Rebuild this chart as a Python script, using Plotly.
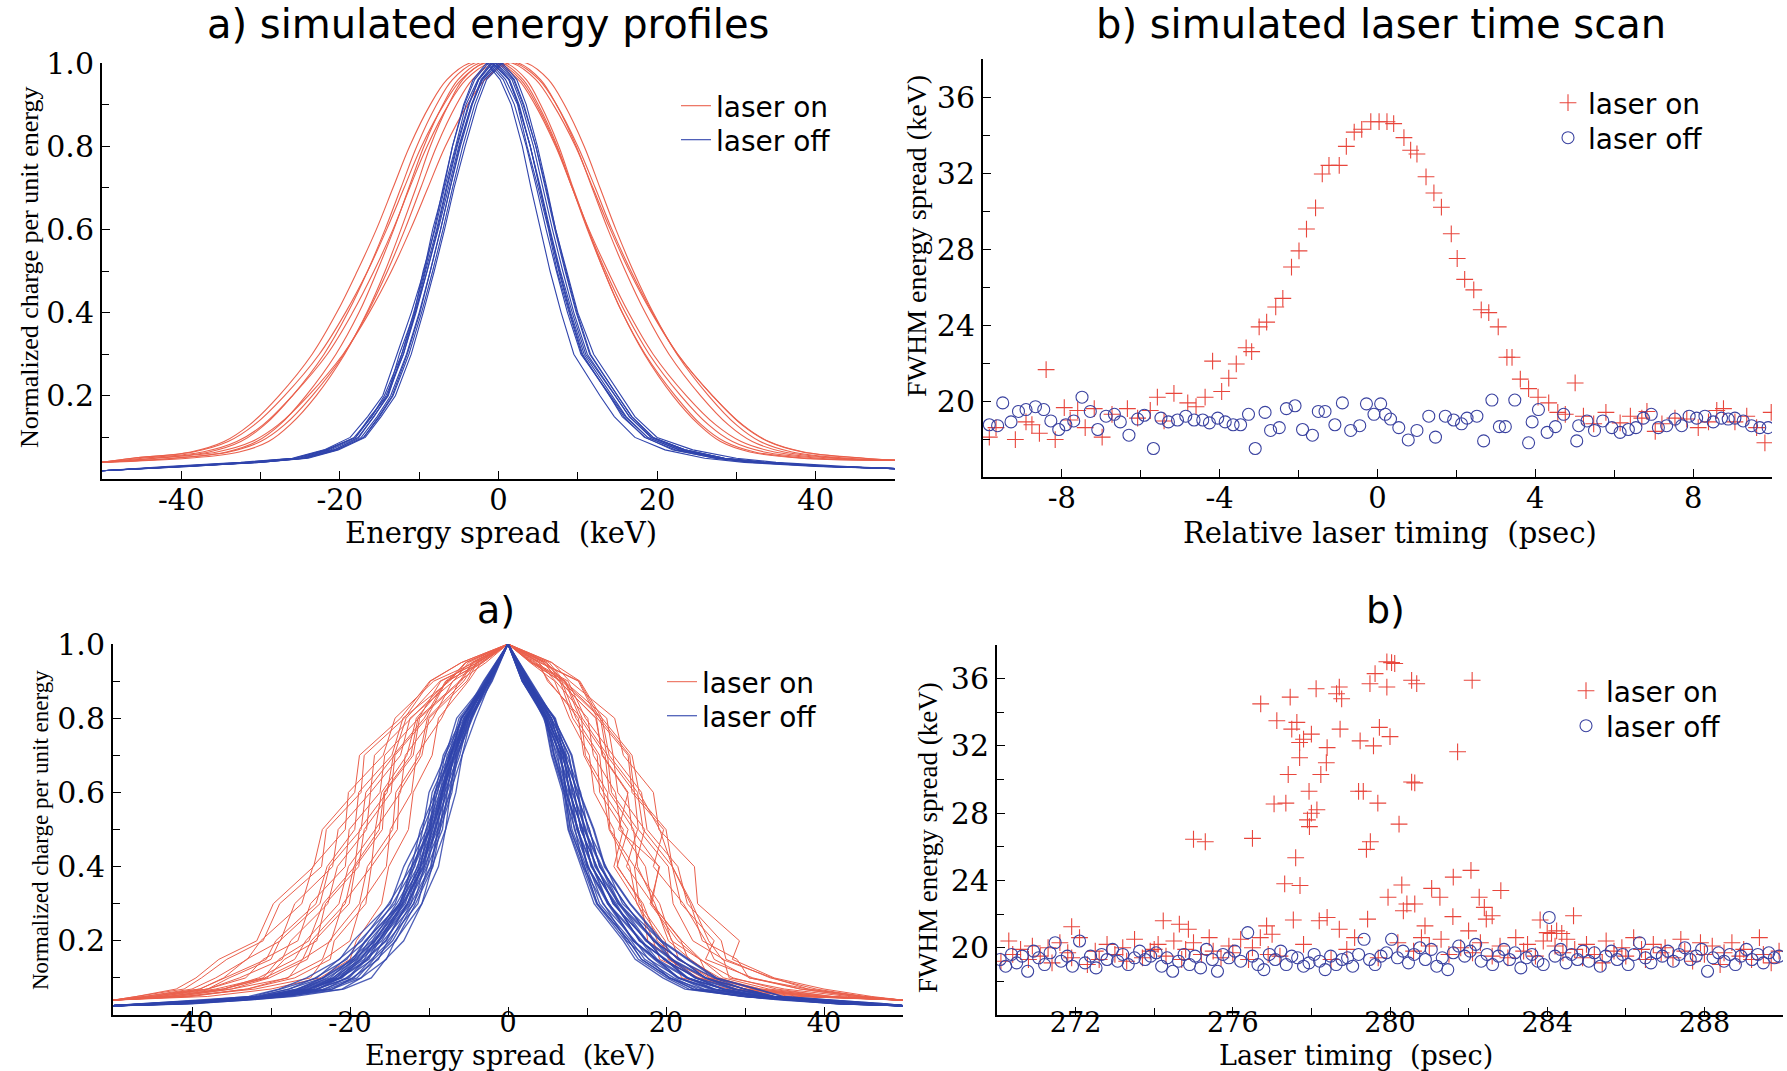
import plotly.graph_objects as go

W, H = 1787, 1071

RED_LINE = "rgb(234,96,76)"
BLUE_LINE = "rgb(48,68,172)"
RED_MK = "rgb(232,70,60)"
BLUE_MK = "rgb(58,66,160)"

# ---------------- top-left: simulated energy profiles (x positions at fixed levels) ----------------
TL_ON_LEVELS = [0.04, 0.05, 0.065, 0.09, 0.13, 0.2, 0.3, 0.4, 0.5, 0.6, 0.7, 0.8, 0.9, 0.96, 1.0,
                1.0, 0.96, 0.9, 0.8, 0.7, 0.6, 0.5, 0.4, 0.3, 0.2, 0.13, 0.09, 0.065, 0.05, 0.045]
TL_ON_CURVES = [
    [-50, -46.1, -38.8, -34.6, -31.4, -27.7, -23.5, -20.4, -17.8, -15.4, -13.3, -11.2, -8.6, -6.5, -3.6,
     -0.4, 2.5, 4.6, 7.2, 9.3, 11.4, 13.8, 16.4, 19.5, 23.7, 27.4, 30.6, 34.8, 42.1, 50],
    [-50, -40.9, -34.3, -30.5, -27.6, -24.3, -20.5, -17.6, -15.3, -13.2, -11.3, -9.4, -7.0, -5.1, -2.4,
     0.4, 3.1, 5.0, 7.4, 9.3, 11.2, 13.3, 15.6, 18.5, 22.3, 25.6, 28.5, 32.3, 38.9, 50],
    [-50, -46.2, -38.5, -34.1, -30.8, -27.0, -22.6, -19.3, -16.5, -14.1, -11.9, -9.7, -6.9, -4.7, -1.7,
     1.7, 4.7, 6.9, 9.7, 11.9, 14.1, 16.5, 19.3, 22.6, 27.0, 30.8, 34.1, 38.5, 46.2, 50],
    [-50, -41, -34, -30, -27, -23.5, -19.5, -16.5, -14, -11.8, -9.8, -7.8, -5.3, -3.3, -0.5,
     2.5, 5.3, 7.3, 9.8, 11.8, 13.8, 16, 18.5, 21.5, 25.5, 29, 32, 36, 43, 50],
    [-50, -43.5, -36.5, -32.5, -29.5, -26, -22, -19, -16.5, -14.3, -12.3, -10.3, -7.8, -5.8, -3,
     0, 2.8, 4.8, 7.3, 9.3, 11.3, 13.5, 16, 19, 23, 26.5, 29.5, 33.5, 40.5, 50],
    [-50, -43.2, -35.5, -31.1, -27.8, -24, -19.6, -16.3, -13.5, -11.1, -8.9, -6.7, -3.9, -1.7, 1.3,
     3.5, 6.3, 8.3, 10.8, 12.8, 14.8, 17, 19.5, 22.5, 26.5, 30, 33, 37, 44, 50],
    [-50, -44.9, -37.3, -33.0, -29.7, -26.0, -21.6, -18.4, -15.7, -13.3, -11.2, -9.0, -6.3, -4.1, -1.1,
     2.1, 5.1, 7.3, 10.0, 12.2, 14.3, 16.7, 19.4, 22.6, 27.0, 30.7, 34.0, 38.3, 45.9, 50],
    [-50, -39.1, -32.7, -29.0, -26.3, -23.0, -19.4, -16.6, -14.3, -12.3, -10.4, -8.6, -6.3, -4.5, -1.9,
     0.9, 3.5, 5.3, 7.6, 9.4, 11.3, 13.3, 15.6, 18.4, 22.0, 25.3, 28.0, 31.7, 38.1, 50],
]

TL_OFF_LEVELS = [0.02, 0.03, 0.04, 0.05, 0.07, 0.1, 0.15, 0.2, 0.3, 0.4, 0.5, 0.6, 0.7, 0.8, 0.9, 0.96, 1.0,
                 0.96, 0.9, 0.8, 0.7, 0.6, 0.5, 0.4, 0.3, 0.2, 0.15, 0.1, 0.07, 0.05, 0.04, 0.03, 0.025]
TL_OFF_CURVES = [
    [-50, -41, -32, -25.5, -21.8, -18, -16.2, -14.0, -12.5, -10.6, -9.5, -8.0, -6.8, -5.4, -4.1, -2.6, -1.0,
     0.9, 2.4, 3.6, 5.0, 6.3, 7.4, 8.9, 10.5, 14.0, 15.6, 18.5, 22.0, 27.5, 32.0, 41.0, 50],
    [-50, -39, -31, -25, -21.5, -18, -16, -14.2, -12, -10.5, -9, -7.6, -6.3, -5, -3.4, -2.0, 0.0,
     1.9, 3.1, 4.7, 6.0, 7.2, 8.6, 10.0, 12.0, 15.5, 17.2, 20.0, 24.5, 30, 35, 44, 50],
    [-50, -40, -30, -24.6, -20.7, -17.6, -15.8, -13.9, -12.2, -10.7, -9.3, -8.1, -7.0, -5.8, -4.4, -3.2, -1.5,
     0.2, 1.6, 3.0, 4.1, 5.3, 6.5, 7.9, 9.5, 12.8, 14.6, 17.2, 21.0, 26.0, 31.0, 40.0, 50],
    [-50, -40, -30.5, -24.5, -20.5, -17.0, -15.0, -13.3, -11.3, -9.7, -8.3, -7.0, -5.8, -4.5, -3.0, -1.8, 0.3,
     2.0, 3.2, 4.7, 5.9, 7.1, 8.4, 9.8, 11.5, 15.0, 16.8, 19.5, 23.5, 28.5, 33.5, 42.5, 50],
    [-50, -41, -31.5, -25.8, -21.7, -18.2, -16.0, -14.4, -12.2, -10.5, -9.2, -7.8, -6.6, -5.3, -3.8, -2.5, -0.8,
     1.3, 2.5, 4.0, 5.3, 6.5, 7.8, 9.3, 11.0, 14.7, 16.5, 19.3, 23.5, 28.5, 33.5, 42, 50],
    [-50, -39, -30.3, -24.3, -20.4, -17.0, -15.1, -13.4, -11.5, -9.9, -8.6, -7.3, -6.1, -4.9, -3.4, -2.2, -0.4,
     1.4, 2.6, 4.0, 5.2, 6.4, 7.6, 9.0, 10.6, 14.0, 15.8, 18.4, 22.3, 27.2, 32, 41, 50],
    [-50, -42, -32.5, -26.0, -22.0, -18.7, -16.5, -14.6, -12.8, -11.0, -9.4, -8.3, -6.9, -5.8, -4.3, -3.0, -1.3,
     0.6, 2.0, 3.5, 4.8, 6.0, 7.3, 8.7, 10.4, 14.2, 16.0, 18.8, 22.8, 28, 33, 42, 50],
    [-50, -39.5, -30.2, -24.0, -20.2, -16.8, -14.8, -13.0, -11.0, -9.5, -8.1, -6.8, -5.6, -4.2, -2.7, -1.5, 0.5,
     2.3, 3.5, 4.9, 6.1, 7.2, 8.5, 9.9, 11.6, 15.0, 16.8, 19.5, 23.5, 28.5, 33.5, 42, 50],
    [-50, -40.5, -31, -25.2, -21.2, -17.7, -15.7, -14.0, -12.0, -10.4, -9.0, -7.7, -6.5, -5.2, -3.7, -2.5, -0.7,
     1.3, 2.5, 4.0, 5.2, 6.4, 7.7, 9.1, 10.8, 14.3, 16.1, 18.8, 22.8, 27.8, 32.8, 41.8, 50],
    [-50, -40, -30.8, -24.8, -20.8, -17.3, -15.3, -13.6, -11.6, -10.0, -8.6, -7.3, -6.1, -4.8, -3.3, -2.1, -0.3,
     1.7, 2.9, 4.4, 5.6, 6.8, 8.1, 9.5, 11.2, 14.7, 16.5, 19.2, 23.2, 28.2, 33.2, 42.2, 50],
]

# ---------------- bottom-left: measured energy profiles ----------------
BL_ON_LEVELS = [0.04, 0.05, 0.07, 0.1, 0.15, 0.2, 0.3, 0.4, 0.5, 0.6, 0.7, 0.8, 0.9, 0.95, 1.0,
                0.95, 0.9, 0.8, 0.7, 0.6, 0.5, 0.4, 0.3, 0.2, 0.15, 0.1, 0.07, 0.05, 0.04]
BL_ON_CURVES = [
    [-50, -38, -30, -23.8, -20.0, -19.2, -16.0, -15.1, -12.6, -12.0, -9.6, -8.8, -5.0, -3.4, 0,
     3.6, 5.2, 8.9, 9.6, 12.1, 12.8, 15.4, 16.3, 19.5, 20.3, 24.0, 29, 37, 50],
    [-50, -41, -32, -25.0, -23.3, -20.0, -18.6, -15.4, -14.9, -12.2, -11.6, -8.4, -6.2, -2.8, 0,
     3.9, 6.0, 10.1, 10.8, 13.6, 14.3, 17.4, 18.2, 21.9, 22.8, 26.8, 31, 39, 50],
    [-50, -40, -33, -28.0, -23.5, -22.6, -18.8, -17.8, -14.6, -14.2, -11.2, -10.2, -5.6, -4.0, 0,
     2.8, 5.9, 7.8, 10.3, 10.9, 13.4, 13.9, 16.9, 17.7, 20.9, 22.0, 28, 36, 50],
    [-50, -42, -35, -27.8, -26.0, -22.4, -20.9, -17.3, -16.8, -13.6, -13.0, -9.5, -7.0, -3.2, 0,
     4.5, 6.5, 11.1, 12.0, 15.2, 14.0, 19.2, 18.0, 21.5, 24.3, 25.4, 30, 39, 50],
    [-50, -43, -36, -30.8, -26.0, -24.9, -20.6, -19.5, -16.3, -15.7, -12.3, -11.4, -6.1, -4.5, 0,
     3.2, 7.3, 9.4, 12.6, 13.1, 16.4, 15.0, 18.3, 20.8, 21.6, 25.5, 32, 40, 50],
    [-50, -43, -36, -31.6, -27.0, -25.6, -21.4, -20.2, -16.8, -16.0, -12.8, -11.6, -7.6, -3.5, 0,
     4.9, 7.0, 11.9, 12.8, 16.4, 17.1, 20.8, 21.9, 26.1, 25.0, 31.0, 37, 44, 50],
    [-50, -44, -37, -31.0, -29.0, -25.2, -23.4, -19.4, -18.8, -15.3, -14.5, -10.6, -7.9, -4.6, 0,
     2.9, 6.8, 8.6, 11.6, 12.1, 15.2, 13.8, 17.1, 18.9, 21.5, 25.9, 31, 39, 50],
    [-50, -45, -38, -34.0, -28.6, -27.5, -22.8, -21.6, -17.9, -17.4, -13.6, -12.4, -6.9, -5.0, 0,
     5.2, 7.1, 12.5, 13.3, 16.9, 17.6, 21.5, 22.7, 27.0, 27.6, 33.2, 39, 45, 50],
    [-50, -44, -38, -33.2, -31.0, -26.6, -25.0, -20.6, -20.1, -16.2, -15.6, -11.3, -8.5, -3.8, 0,
     3.4, 7.6, 9.8, 13.3, 13.9, 17.3, 16.1, 19.2, 20.7, 24.3, 28.5, 34, 41, 50],
    [-50, -46, -39, -35.9, -30.6, -29.4, -24.3, -22.9, -19.4, -18.9, -14.7, -13.3, -7.4, -5.3, 0,
     5.5, 9.1, 11.9, 15.7, 16.6, 19.2, 20.8, 23.1, 24.6, 29.0, 30.5, 38, 45, 50],
    [-50, -45, -39, -36.0, -33.1, -28.8, -27.0, -22.2, -21.5, -17.4, -16.9, -12.2, -7.6, -5.4, 0,
     3.1, 7.2, 9.1, 12.3, 12.8, 15.9, 16.4, 18.6, 20.3, 23.1, 26.4, 32, 40, 50],
    [-50, -46, -40, -37.0, -33.0, -31.3, -26.1, -24.7, -20.6, -20.2, -15.8, -14.3, -9.4, -4.2, 0,
     4.0, 8.9, 11.3, 15.2, 15.7, 19.7, 18.4, 22.2, 25.0, 26.1, 30.6, 37, 44, 50],
    [-50, -47, -41, -38.8, -35.6, -31.0, -28.9, -23.6, -23.0, -18.6, -18.2, -13.1, -9.8, -5.9, 0,
     4.8, 6.8, 11.7, 12.5, 16.0, 16.5, 20.3, 20.9, 23.4, 27.3, 28.0, 35, 43, 50],
    [-50, -41, -33, -27.0, -22.5, -22.0, -18.0, -17.3, -14.0, -13.8, -10.9, -10.0, -5.2, -3.9, 0,
     4.2, 9.0, 11.6, 15.4, 16.0, 20.0, 20.8, 23.3, 25.4, 27.1, 33.5, 38, 45, 50],
    [-50, -42, -35, -30.2, -25.4, -24.5, -20.1, -19.3, -15.9, -15.6, -12.0, -11.2, -5.9, -4.4, 0,
     3.0, 6.6, 8.2, 11.3, 11.6, 14.6, 13.4, 16.4, 18.4, 19.2, 24.2, 30, 38, 50],
    [-50, -45, -38, -35.3, -30.0, -28.9, -23.8, -22.6, -18.6, -18.0, -14.4, -12.9, -8.6, -3.8, 0,
     3.9, 5.0, 9.3, 9.8, 12.6, 12.9, 16.0, 16.6, 19.9, 20.4, 24.7, 30, 38, 50],
    [-50, -47, -42, -39.5, -36.6, -31.8, -29.7, -24.6, -23.5, -19.4, -18.8, -13.6, -9.9, -5.9, 0,
     5.6, 7.8, 13.5, 14.6, 18.4, 19.1, 23.6, 24.0, 29.3, 28.4, 33.7, 40, 46, 50],
    [-50, -43, -36, -30.5, -28.3, -24.2, -23.1, -18.9, -18.2, -14.8, -14.3, -10.3, -7.8, -3.2, 0,
     4.6, 6.4, 11.2, 11.9, 15.1, 15.7, 19.1, 18.2, 22.0, 24.4, 27.3, 33, 41, 50],
]

BL_OFF_LEVELS = [0.025, 0.03, 0.04, 0.05, 0.07, 0.1, 0.15, 0.2, 0.3, 0.4, 0.5, 0.6, 0.7, 0.8, 0.9, 1.0,
                 0.9, 0.8, 0.7, 0.6, 0.5, 0.4, 0.3, 0.2, 0.15, 0.1, 0.07, 0.05, 0.04, 0.03, 0.025]
BL_OFF_CURVES = [
    [-50, -40, -33.2, -27.0, -20.8, -17.3, -15.5, -13.2, -10.9, -8.8, -7.9, -6.6, -5.8, -4.1, -2.2, 0,
     1.8, 4.6, 5.5, 6.9, 7.6, 9.3, 10.9, 14.6, 16.1, 19.6, 22.4, 29.8, 34.6, 41.8, 50],
    [-50, -40.7, -33.0, -28.1, -21.0, -18.6, -15.4, -14.3, -10.9, -9.6, -7.9, -7.3, -5.8, -4.7, -2.0, 0,
     2.2, 4.5, 6.3, 7.0, 8.5, 9.5, 12.1, 15.0, 17.9, 20.4, 24.6, 30.0, 36.4, 42.5, 50],
    [-50, -41.0, -34.2, -27.9, -22.3, -18.6, -16.6, -14.2, -11.7, -9.5, -8.6, -7.1, -6.4, -4.5, -2.4, 0,
     1.9, 4.7, 5.6, 7.1, 7.7, 9.5, 11.2, 14.9, 16.5, 20.1, 22.9, 29.5, 35.7, 41.6, 50],
    [-50, -42.2, -33.8, -28.9, -22.2, -19.7, -16.4, -15.2, -11.4, -10.2, -8.3, -7.7, -6.1, -5.0, -2.1, 0,
     2.4, 4.7, 6.7, 7.4, 8.9, 10.1, 12.8, 15.9, 18.8, 21.6, 26.0, 30.9, 36.9, 43.2, 50],
    [-50, -42.0, -35.0, -28.5, -23.4, -19.5, -17.3, -14.9, -12.3, -9.8, -8.9, -7.4, -6.6, -4.7, -2.5, 0,
     1.8, 4.8, 5.8, 7.2, 7.9, 9.7, 11.3, 15.3, 16.9, 20.5, 23.5, 29.8, 36.0, 42.0, 50],
    [-50, -42.7, -34.6, -29.4, -23.1, -20.5, -17.1, -15.8, -11.9, -10.6, -8.6, -8.0, -6.3, -5.2, -2.6, 0,
     2.5, 5.0, 7.0, 7.8, 9.4, 10.6, 13.5, 16.7, 19.8, 22.6, 27.4, 32.2, 37.6, 44.6, 50],
    [-50, -43.0, -35.4, -29.0, -24.3, -20.3, -18.1, -15.5, -12.8, -10.4, -9.3, -7.8, -6.9, -4.9, -2.3, 0,
     2.0, 4.9, 6.1, 7.6, 8.4, 10.2, 12.0, 16.1, 17.8, 21.7, 24.8, 31.2, 36.4, 43.7, 50],
    [-50, -43.4, -35.0, -29.8, -24.0, -21.2, -17.6, -16.3, -12.3, -11.0, -8.9, -8.3, -6.6, -5.3, -2.6, 0,
     2.6, 5.2, 7.3, 8.1, 9.8, 11.0, 14.0, 17.4, 20.6, 23.6, 28.4, 32.9, 38.6, 45.8, 50],
    [-50, -43.8, -35.9, -29.6, -25.1, -21.0, -18.6, -16.0, -13.2, -10.6, -9.6, -8.0, -7.1, -5.0, -2.7, 0,
     2.1, 5.1, 6.4, 7.9, 8.7, 10.7, 12.6, 16.8, 18.6, 22.6, 26.0, 31.8, 37.4, 44.6, 50],
    [-50, -44.0, -36.0, -30.2, -24.7, -21.8, -18.2, -16.8, -12.7, -11.3, -9.3, -8.5, -6.8, -5.5, -2.3, 0,
     2.5, 5.0, 7.0, 7.8, 9.4, 10.6, 13.5, 16.7, 19.8, 22.7, 27.3, 32.0, 38.2, 45.0, 50],
    [-50, -44.3, -36.4, -30.0, -25.6, -21.4, -19.0, -16.4, -13.4, -10.8, -9.8, -8.2, -7.3, -5.2, -2.7, 0,
     2.3, 5.8, 7.1, 8.8, 9.6, 11.8, 13.9, 18.5, 20.6, 24.9, 28.6, 33.4, 39.6, 46.3, 50],
    [-50, -44.5, -36.2, -30.6, -25.2, -22.2, -18.6, -17.1, -13.0, -11.5, -9.5, -8.7, -6.9, -5.6, -2.4, 0,
     2.4, 4.7, 6.7, 7.4, 8.9, 10.1, 12.8, 15.9, 18.8, 21.6, 26.0, 31.5, 37.2, 43.9, 50],
    [-50, -44.8, -36.9, -30.4, -26.3, -22.1, -19.5, -16.9, -13.8, -11.1, -10.2, -8.4, -7.5, -5.3, -2.8, 0,
     2.2, 5.5, 6.8, 8.4, 9.2, 11.3, 13.3, 17.6, 19.7, 23.8, 27.2, 32.5, 38.5, 45.5, 50],
    [-50, -45.1, -36.7, -31.0, -26.0, -22.9, -19.1, -17.6, -13.4, -11.9, -9.8, -9.0, -7.2, -5.9, -2.5, 0,
     2.7, 5.5, 7.7, 8.6, 10.3, 11.6, 14.8, 18.4, 21.8, 25.0, 30.0, 33.6, 40.0, 47.0, 50],
    [-50, -45.0, -37.2, -30.8, -26.8, -22.5, -19.9, -17.2, -14.1, -11.4, -10.4, -8.6, -7.7, -5.4, -2.9, 0,
     2.1, 5.3, 6.5, 8.0, 8.8, 10.8, 12.7, 17.0, 18.9, 22.8, 26.2, 31.8, 37.8, 44.6, 50],
    [-50, -45.5, -37.0, -31.4, -26.7, -23.5, -19.7, -18.1, -13.7, -12.2, -10.0, -9.3, -7.3, -6.0, -2.5, 0,
     2.6, 5.3, 7.3, 8.2, 9.9, 11.1, 14.2, 17.6, 20.8, 23.9, 28.7, 33.3, 39.5, 46.3, 50],
    [-50, -45.8, -37.9, -31.6, -27.8, -23.4, -20.7, -17.9, -14.6, -11.8, -10.8, -8.9, -8.0, -5.6, -3.0, 0,
     2.4, 6.0, 7.4, 9.2, 10.1, 12.4, 14.5, 19.3, 21.5, 26.1, 29.9, 33.8, 40.3, 47.5, 50],
    [-50, -46.2, -37.6, -31.9, -27.7, -24.4, -20.4, -18.8, -14.3, -12.6, -10.3, -9.6, -7.5, -6.2, -2.6, 0,
     2.5, 4.8, 7.2, 7.7, 9.5, 10.5, 13.7, 16.6, 20.0, 22.8, 27.2, 32.2, 38.0, 45.2, 50],
    [-50, -46.5, -38.6, -32.3, -28.8, -24.2, -21.4, -18.5, -15.1, -12.2, -11.1, -9.2, -8.2, -5.8, -3.1, 0,
     2.8, 5.8, 8.0, 9.0, 10.8, 12.2, 15.4, 19.3, 22.7, 26.2, 31.4, 34.6, 41.2, 48.0, 50],
    [-50, -47.0, -38.4, -32.8, -29.0, -25.5, -21.3, -19.6, -14.9, -13.2, -10.8, -10.0, -7.9, -6.5, -2.7, 0,
     2.3, 5.9, 7.1, 8.9, 9.7, 11.9, 14.1, 18.7, 20.8, 25.1, 28.9, 33.5, 39.7, 46.8, 50],
    [-50, -42.6, -35.3, -29.0, -24.2, -20.1, -17.9, -15.4, -12.7, -10.2, -9.2, -7.7, -6.9, -4.8, -2.6, 0,
     2.0, 4.9, 5.9, 7.4, 8.1, 9.9, 11.6, 15.6, 17.3, 21.0, 24.0, 30.3, 36.3, 42.6, 50],
    [-50, -43.6, -35.5, -29.7, -24.2, -21.4, -17.8, -16.5, -12.5, -11.1, -9.1, -8.4, -6.7, -5.4, -2.3, 0,
     2.7, 5.5, 7.7, 8.6, 10.3, 11.6, 14.8, 18.4, 21.8, 25.0, 30.0, 33.6, 39.8, 47.0, 50],
    [-50, -44.4, -36.5, -30.2, -25.9, -21.8, -19.3, -16.8, -13.6, -11.1, -10.0, -8.3, -7.4, -5.2, -2.8, 0,
     1.8, 4.8, 5.8, 7.2, 7.9, 9.7, 11.3, 15.3, 16.9, 20.5, 23.5, 29.9, 35.9, 42.2, 50],
    [-50, -41.9, -34.5, -28.2, -22.8, -19.1, -17.0, -14.6, -12.0, -9.7, -8.8, -7.3, -6.5, -4.6, -2.5, 0,
     2.2, 5.5, 6.8, 8.4, 9.2, 11.3, 13.3, 17.6, 19.7, 23.8, 27.2, 32.4, 38.3, 45.4, 50],
    [-50, -45.3, -36.9, -31.1, -26.5, -23.3, -19.5, -18.0, -13.6, -12.1, -9.9, -9.2, -7.2, -5.9, -2.4, 0,
     2.4, 4.7, 6.6, 7.3, 8.8, 10.0, 12.6, 15.8, 18.5, 21.4, 25.6, 31.3, 37.0, 43.6, 50],
    [-50, -43.8, -36.3, -29.8, -25.3, -21.2, -18.8, -16.3, -13.3, -10.7, -9.7, -8.1, -7.2, -5.1, -2.7, 0,
     2.9, 5.8, 8.1, 9.1, 10.9, 12.3, 15.5, 19.5, 22.9, 26.4, 31.6, 34.8, 41.0, 48.0, 50],
]

# ---------------- top-right: simulated laser time scan ----------------
TR_ON_T = [-9.84, -9.67, -9.18, -8.91, -8.76, -8.57, -8.4, -8.17, -7.94, -7.79,
           -7.6, -7.41, -7.18, -6.98, -6.73, -6.34, -6.08, -5.76, -5.58, -5.41,
           -5.16, -4.81, -4.6, -4.37, -4.18, -3.95, -3.77, -3.58, -3.33, -3.19,
           -3.0, -2.81, -2.58, -2.4, -2.18, -1.99, -1.8, -1.57, -1.4, -1.23,
           -0.97, -0.79, -0.59, -0.4, -0.17, 0.04, 0.24, 0.41, 0.67, 0.84,
           1.0, 1.23, 1.43, 1.62, 1.87, 2.02, 2.21, 2.44, 2.63, 2.82,
           3.06, 3.28, 3.41, 3.62, 3.83, 4.07, 4.34, 4.57, 4.76, 5.01,
           5.22, 5.48, 5.79, 6.15, 6.41, 6.7, 6.83, 7.04, 7.21, 7.54,
           7.84, 8.13, 8.39, 8.6, 8.77, 9.06, 9.36, 9.61, 9.82, 9.98]
TR_ON_Y = [18.1, 18.6, 17.97, 18.9, 18.75, 18.3, 21.65, 17.97, 19.65, 19.0,
           19.5, 18.6, 19.6, 18.1, 19.3, 19.6, 19.1, 19.5, 20.2, 18.95,
           20.4, 19.9, 19.7, 20.2, 22.1, 20.5, 21.2, 21.95, 22.8, 22.6,
           23.9, 24.15, 24.95, 25.4, 27.05, 27.9, 29.05, 30.16, 31.95, 32.4,
           32.4, 33.4, 34.15, 34.3, 34.7, 34.7, 34.7, 34.6, 33.86, 33.2,
           33.0, 31.8, 30.95, 30.2, 28.8, 27.5, 26.4, 25.85, 24.8, 24.65,
           23.9, 22.3, 22.3, 21.15, 20.65, 20.2, 19.9, 19.4, 19.3, 20.95,
           19.2, 18.8, 19.4, 18.85, 19.2, 19.1, 19.45, 18.4, 18.8, 19.1,
           19.05, 18.6, 18.9, 19.5, 19.6, 18.9, 19.2, 18.6, 17.8, 19.4]
TR_OFF_T = [-9.84, -9.63, -9.5, -9.29, -9.1, -8.91, -8.67, -8.46, -8.28, -8.08,
            -7.9, -7.7, -7.49, -7.28, -7.09, -6.88, -6.67, -6.52, -6.3, -6.08,
            -5.91, -5.68, -5.49, -5.3, -5.07, -4.86, -4.65, -4.43, -4.26, -4.05,
            -3.86, -3.66, -3.47, -3.27, -3.1, -2.85, -2.71, -2.49, -2.31, -2.09,
            -1.9, -1.65, -1.5, -1.33, -1.08, -0.89, -0.68, -0.45, -0.28, -0.09,
            0.08, 0.2, 0.33, 0.54, 0.78, 1.0, 1.3, 1.47, 1.72, 1.93,
            2.13, 2.27, 2.52, 2.69, 2.9, 3.09, 3.24, 3.48, 3.83, 3.92,
            4.08, 4.3, 4.51, 4.72, 5.05, 5.1, 5.31, 5.5, 5.71, 5.94,
            6.15, 6.36, 6.55, 6.74, 6.94, 7.12, 7.33, 7.54, 7.71, 7.9,
            8.09, 8.3, 8.51, 8.72, 8.89, 9.06, 9.27, 9.48, 9.69, 9.9]
TR_OFF_Y = [18.75, 18.7, 19.9, 18.9, 19.45, 19.55, 19.7, 19.55, 18.95, 18.5,
            18.75, 18.95, 20.2, 19.45, 18.5, 19.2, 19.3, 18.9, 18.2, 19.05,
            19.25, 17.5, 19.1, 18.9, 19.0, 19.2, 19.0, 19.0, 18.85, 19.1,
            18.9, 18.75, 18.75, 19.3, 17.5, 19.4, 18.45, 18.6, 19.6, 19.75,
            18.5, 18.2, 19.45, 19.45, 18.75, 19.9, 18.45, 18.7, 19.85, 19.3,
            19.85, 19.3, 19.05, 18.6, 17.95, 18.45, 19.2, 18.1, 19.2, 19.0,
            18.8, 19.1, 19.2, 17.9, 20.05, 18.65, 18.65, 20.05, 17.8, 18.9,
            19.55, 18.35, 18.65, 19.3, 17.9, 18.7, 18.95, 18.45, 18.95, 18.6,
            18.35, 18.5, 18.6, 19.1, 19.3, 18.6, 18.7, 19.05, 18.7, 19.2,
            19.1, 19.2, 18.9, 19.1, 19.05, 19.1, 18.95, 18.7, 18.6, 18.6]

# ---------------- bottom-right: measured laser time scan ----------------
BR_ON_PEAK_T = [279.92, 279.62, 279.49, 279.92, 278.12, 277.46, 278.71, 278.64, 278.77, 276.71,
                277.12, 277.63, 277.5, 278.0, 277.8, 277.7, 278.73, 279.73, 279.24, 279.58,
                278.4, 278.38, 277.7, 277.41, 278.24, 279.2, 279.32, 277.94, 277.05, 277.35,
                278.14, 278.0, 277.9, 277.95, 279.69, 275.0, 275.3, 276.5, 279.5, 279.4,
                277.6, 277.32, 277.71, 279.95, 277.54, 278.2, 278.4, 279.43, 278.71, 274.23,
                274.64, 274.87, 271.9, 276.86,
                280.04, 280.12, 280.55, 280.68, 282.09, 280.0, 281.72, 280.55, 280.63, 280.23,
                280.3, 281.06, 281.61, 282.06, 281.27, 280.43, 280.34, 280.63, 282.82, 282.27,
                282.4, 282.6, 282.45, 281.6, 280.89, 282.0, 284.67, 283.82, 284.24, 284.11, 284.37]
BR_ON_PEAK_Y = [37.0, 36.3, 35.7, 35.5, 35.4, 34.9, 35.5, 35.1, 34.8, 34.5,
                33.5, 33.4, 33.0, 32.7, 32.4, 32.2, 33.0, 33.1, 32.3, 32.0,
                31.9, 31.0, 31.3, 30.3, 30.3, 29.3, 29.3, 29.3, 28.55, 28.6,
                28.2, 28.0, 27.6, 27.2, 28.6, 26.45, 26.3, 26.5, 26.3, 25.85,
                25.35, 23.8, 23.7, 23.0, 21.65, 21.6, 21.8, 21.7, 21.1, 21.6,
                21.4, 21.1, 21.25, 21.3,
                36.95, 36.9, 35.9, 35.7, 35.9, 32.55, 31.65, 29.85, 29.8, 27.35,
                23.73, 23.53, 24.2, 24.6, 23.0, 22.6, 22.2, 22.6, 23.4, 23.0,
                22.4, 21.9, 21.7, 21.85, 21.3, 21.0, 21.9, 21.65, 21.0, 20.85, 20.85]
BR_ON_BASE_T = [270.1, 270.3, 270.4, 270.6, 270.8, 270.9, 271.1, 271.3, 271.4, 271.6, 271.8, 271.9,
                272.1, 272.3, 272.5, 272.6, 272.8, 273.0, 273.2, 273.3, 273.5, 273.7, 273.9,
                274.0, 274.1, 274.3, 274.5, 274.7, 274.8, 275.0, 275.2, 275.4, 275.5, 275.7, 275.9,
                276.0, 276.2, 276.4, 276.5, 276.7, 276.9, 277.0, 277.2, 277.8, 278.5, 278.9,
                279.1, 279.7, 280.2, 280.6, 280.8, 281.0, 281.3, 281.5, 281.8,
                282.1, 282.3, 282.6, 282.8, 283.0, 283.2, 283.4, 283.5, 283.7, 283.9,
                284.0, 284.2, 284.4, 284.5, 284.7, 284.9, 285.0, 285.2, 285.4, 285.5, 285.7, 285.9,
                286.0, 286.2, 286.4, 286.5, 286.7, 286.9, 287.0, 287.2, 287.4, 287.5, 287.7, 287.9,
                288.0, 288.2, 288.4, 288.5, 288.7, 288.9, 289.0, 289.2, 289.4, 289.5, 289.7, 289.9]
BR_ON_BASE_Y = [19.2, 20.4, 19.6, 19.9, 19.3, 20.1, 19.5, 20.0, 19.1, 20.3, 19.7, 19.4,
                20.6, 19.0, 19.8, 19.3, 20.2, 19.6, 20.0, 19.2, 20.5, 19.4, 19.8,
                19.9, 20.2, 19.5, 20.4, 19.3, 19.9, 20.3, 19.6, 20.6, 19.8, 19.4, 20.1,
                19.7, 20.5, 19.3, 20.0, 20.6, 19.6, 20.8, 19.5, 20.2, 19.3, 19.9,
                20.6, 19.4, 20.3, 19.8, 20.6, 20.1, 20.5, 19.6, 20.0,
                19.7, 20.3, 19.5, 20.1, 19.4, 20.6, 19.8, 20.2, 19.5, 20.4,
                20.9, 20.1, 19.7, 20.5, 19.9, 19.4, 20.2, 19.6, 19.1, 20.4, 19.8, 20.0,
                19.5, 20.6, 19.9, 19.3, 20.2, 19.7, 20.0, 19.4, 20.5, 19.8, 19.2, 20.3,
                19.6, 20.1, 19.0, 19.7, 20.3, 19.5, 19.9, 19.3, 20.6, 19.6, 19.1, 19.8]
BR_OFF_T = [270.08, 270.22, 270.37, 270.5, 270.64, 270.78, 270.93,
            271.06, 271.21, 271.35, 271.48, 271.63, 271.79, 271.92,
            272.1, 272.24, 272.38, 272.52, 272.66, 272.8, 272.94,
            273.07, 273.2, 273.34, 273.5, 273.63, 273.77, 273.91,
            274.05, 274.19, 274.33, 274.47, 274.62, 274.76, 274.9,
            275.04, 275.18, 275.33, 275.48, 275.61, 275.75, 275.9,
            276.05, 276.2, 276.38, 276.5, 276.64, 276.79, 276.93,
            277.08, 277.22, 277.36, 277.5, 277.65, 277.8, 277.94,
            278.07, 278.21, 278.35, 278.49, 278.63, 278.78, 278.92,
            279.05, 279.2, 279.34, 279.48, 279.62, 279.77, 279.91,
            280.04, 280.19, 280.33, 280.47, 280.61, 280.76, 280.9,
            281.05, 281.19, 281.33, 281.47, 281.61, 281.75, 281.9,
            282.04, 282.18, 282.32, 282.47, 282.61, 282.76, 282.9,
            283.04, 283.18, 283.33, 283.47, 283.61, 283.76, 283.9,
            284.05, 284.2, 284.34, 284.48, 284.62, 284.77, 284.91,
            285.06, 285.2, 285.35, 285.49, 285.63, 285.78, 285.92,
            286.06, 286.21, 286.35, 286.5, 286.64, 286.78, 286.93,
            287.07, 287.21, 287.36, 287.5, 287.64, 287.79, 287.93,
            288.08, 288.22, 288.36, 288.5, 288.65, 288.79, 288.93,
            289.07, 289.21, 289.36, 289.5, 289.64, 289.78, 289.9]
BR_OFF_Y = [19.3, 18.9, 19.6, 19.1, 19.5, 18.6, 19.8,
            19.4, 19.0, 19.7, 20.3, 19.2, 19.5, 18.9,
            20.4, 19.1, 19.5, 18.8, 19.6, 19.3, 19.9,
            19.2, 19.6, 19.0, 19.4, 19.8, 19.3, 19.5,
            19.7, 18.9, 19.4, 18.6, 19.2, 19.6, 19.0,
            19.5, 18.8, 19.9, 19.3, 18.6, 19.6, 19.4,
            19.8, 19.2, 20.9, 19.5, 19.0, 18.7, 19.6,
            19.3, 19.8, 19.0, 19.5, 19.4, 18.9, 19.1,
            19.6, 19.2, 18.7, 19.5, 19.0, 19.3, 19.4,
            18.9, 19.6, 20.5, 19.3, 19.0, 19.5, 19.7,
            20.5, 19.4, 19.8, 19.1, 19.6, 20.0, 19.3,
            19.9, 18.9, 19.4, 18.7, 19.7, 20.1, 19.5,
            19.8, 20.2, 19.2, 19.6, 19.0, 19.5, 19.9,
            19.3, 19.7, 18.8, 19.4, 19.6, 19.2, 19.0,
            21.8, 19.5, 19.9, 19.1, 19.6, 19.3, 19.8,
            19.2, 19.7, 18.9, 19.5, 19.8, 19.3, 19.6,
            19.0, 19.6, 20.3, 19.4, 19.1, 19.7, 19.5,
            19.8, 19.2, 19.6, 20.0, 19.3, 19.5, 19.9,
            18.6, 19.4, 19.7, 19.2, 19.6, 19.0, 19.5,
            19.9, 19.3, 19.6, 19.1, 19.7, 19.4, 19.5]

# ---------------- tick labels ----------------
E_TICKS = [-40, -20, 0, 20, 40]
E_TICKTEXT = ["-40", "-20", "0", "20", "40"]
Q_TICKS = [0.2, 0.4, 0.6, 0.8, 1.0]
Q_TICKTEXT = ["0.2", "0.4", "0.6", "0.8", "1.0"]
REL_TICKS = [-8, -4, 0, 4, 8]
REL_TICKTEXT = ["-8", "-4", "0", "4", "8"]
ABS_TICKS = [272, 276, 280, 284, 288]
FW_TICKS = [20, 24, 28, 32, 36]

fig = go.Figure()


def add_curves(curves, levels, color, width, name, legend, xa, ya, opacity=1.0, shape="linear"):
    for i, xs in enumerate(curves):
        fig.add_trace(go.Scatter(
            x=xs, y=levels, mode="lines",
            line=dict(color=color, width=width, shape=shape), opacity=opacity,
            name=name, legendgroup=legend + name, showlegend=(i == 0),
            legend=legend, xaxis=xa, yaxis=ya, hoverinfo="skip"))


add_curves(TL_ON_CURVES, TL_ON_LEVELS, RED_LINE, 1.1, "laser on", "legend", "x", "y", shape="spline")
add_curves(TL_OFF_CURVES, TL_OFF_LEVELS, BLUE_LINE, 1.1, "laser off", "legend5", "x", "y")
add_curves(BL_ON_CURVES, BL_ON_LEVELS, RED_LINE, 1.0, "laser on", "legend3", "x3", "y3")
add_curves(BL_OFF_CURVES, BL_OFF_LEVELS, BLUE_LINE, 1.3, "laser off", "legend7", "x3", "y3", 0.85)


def add_points(xs, ys, symbol, color, name, legend, xa, ya):
    fig.add_trace(go.Scatter(
        x=xs, y=ys, mode="markers",
        marker=dict(symbol=symbol, size=12, color=color,
                    line=dict(color=color, width=1.1)),
        name=name, legend=legend, legendgroup=legend + name, showlegend=True,
        xaxis=xa, yaxis=ya, hoverinfo="skip"))


add_points(TR_ON_T, TR_ON_Y, "cross-thin", RED_MK, "laser on", "legend2", "x2", "y2")
add_points(TR_OFF_T, TR_OFF_Y, "circle-open", BLUE_MK, "laser off", "legend6", "x2", "y2")
add_points(BR_ON_BASE_T + BR_ON_PEAK_T, BR_ON_BASE_Y + BR_ON_PEAK_Y, "cross-thin", RED_MK,
           "laser on", "legend4", "x4", "y4")
add_points(BR_OFF_T, BR_OFF_Y, "circle-open", BLUE_MK, "laser off", "legend8", "x4", "y4")


def axis(domain, rng, tickvals, ticktext, minor_tick0, minor_dtick, anchor, standoff=0, size=30):
    return dict(domain=domain, range=rng, anchor=anchor, automargin=False,
                showline=True, linecolor="black", linewidth=2,
                ticks="inside", ticklen=8, tickwidth=1.2, tickcolor="black",
                tickmode="array", tickvals=tickvals, ticktext=ticktext,
                tickfont=dict(family="DejaVu Serif", size=size, color="black"),
                ticklabelstandoff=standoff,
                minor=dict(ticks="inside", ticklen=7, tickwidth=1, tickcolor="black",
                           tickmode="linear", tick0=minor_tick0, dtick=minor_dtick),
                showgrid=False, zeroline=False, fixedrange=True)


def px_x(p):
    return p / W


def px_y(p):
    return 1 - p / H


layout = dict(
    template="none",
    width=W, height=H, margin=dict(l=0, r=0, t=0, b=0, autoexpand=False),
    paper_bgcolor="white", plot_bgcolor="white", showlegend=True,
    xaxis=axis([px_x(102), px_x(895)], [-50, 50], E_TICKS, E_TICKTEXT, 0, 10, "y", -6, 29),
    yaxis=axis([px_y(479), px_y(63)], [0, 1.0], Q_TICKS, Q_TICKTEXT, 0, 0.1, "x"),
    xaxis2=axis([px_x(983), px_x(1772)], [-10, 10], REL_TICKS, REL_TICKTEXT, 0, 2, "y2", -6, 29),
    yaxis2=axis([px_y(477), px_y(59)], [16, 38], FW_TICKS, [str(v) for v in FW_TICKS], 16, 2, "x2"),
    xaxis3=axis([px_x(113), px_x(903)], [-50, 50], E_TICKS, E_TICKTEXT, 0, 10, "y3", -17, 27),
    yaxis3=axis([px_y(1015), px_y(644)], [0, 1.0], Q_TICKS, Q_TICKTEXT, 0, 0.1, "x3"),
    xaxis4=axis([px_x(997), px_x(1783)], [270, 290], ABS_TICKS, [str(v) for v in ABS_TICKS], 270, 2, "y4", -17, 27),
    yaxis4=axis([px_y(1015), px_y(645)], [16, 38], FW_TICKS, [str(v) for v in FW_TICKS], 16, 2, "x4"),
)

LEGFONT = dict(family="DejaVu Sans", size=28, color="black")
# one legend per entry so each row can be placed where the reference has it
for key, lx, ly in [("legend", 676, 106), ("legend5", 676, 140),
                    ("legend2", 1548, 103), ("legend6", 1548, 138),
                    ("legend3", 662, 682), ("legend7", 662, 716),
                    ("legend4", 1566, 691), ("legend8", 1566, 726)]:
    layout[key] = dict(x=px_x(lx), y=px_y(ly), xanchor="left", yanchor="middle",
                       font=LEGFONT, bgcolor="rgba(0,0,0,0)", borderwidth=0,
                       tracegroupgap=0, itemwidth=30)

annotations = []


def text(s, x, y, size, family, angle=0):
    annotations.append(dict(text=s, x=px_x(x), y=px_y(y), xref="paper", yref="paper",
                            xanchor="center", yanchor="middle", showarrow=False,
                            textangle=angle, font=dict(family=family, size=size, color="black")))


text("a) simulated energy profiles", 488, 24, 40, "DejaVu Sans")
text("b) simulated laser time scan", 1381, 24, 40, "DejaVu Sans")
text("a)", 496, 610, 38, "DejaVu Sans")
text("b)", 1385, 610, 38, "DejaVu Sans")

text("Energy spread  (keV)", 501, 533, 29, "DejaVu Serif")
text("Relative laser timing  (psec)", 1390, 533, 29, "DejaVu Serif")
text("Energy spread  (keV)", 511, 1055, 27, "DejaVu Serif")
text("Laser timing  (psec)", 1356, 1055, 27, "DejaVu Serif")

text("Normalized charge per unit energy", 29, 268, 26, "Liberation Serif", -90)
text("FWHM energy spread (keV)", 916, 236, 28, "Liberation Serif", -90)
text("Normalized charge per unit energy", 40, 830, 23, "Liberation Serif", -90)
text("FWHM energy spread (keV)", 928, 837, 27, "Liberation Serif", -90)

layout["annotations"] = annotations
fig.update_layout(**layout)

fig.write_html("out.html",
               post_script="document.body.style.margin='0';document.body.style.padding='0';")
